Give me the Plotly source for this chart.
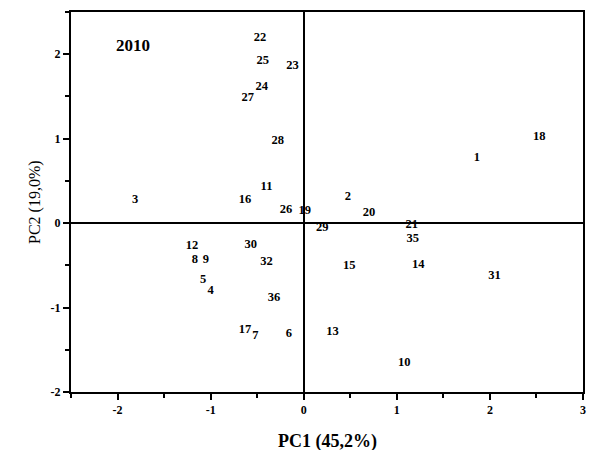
import plotly.graph_objects as go

labels = ["1","2","3","4","5","6","7","8","9","10","11","12","13","14","15","16","17","18",
          "19","20","21","22","23","24","25","26","27","28","29","30","31","32","35","36"]
pc1 = [1.86, 0.475, -1.81, -1.00, -1.08, -0.16, -0.52, -1.17, -1.05, 1.08, -0.40, -1.20, 0.31, 1.23,
       0.49, -0.63, -0.63, 2.53, 0.01, 0.70, 1.16, -0.47, -0.12, -0.45, -0.44, -0.19, -0.60, -0.28,
       0.20, -0.57, 2.05, -0.40, 1.17, -0.32]
pc2 = [0.77, 0.31, 0.28, -0.80, -0.67, -1.31, -1.34, -0.43, -0.44, -1.65, 0.43, -0.27, -1.29, -0.49,
       -0.51, 0.28, -1.26, 1.02, 0.14, 0.12, -0.02, 2.195, 1.86, 1.61, 1.92, 0.16, 1.48, 0.97,
       -0.06, -0.26, -0.62, -0.46, -0.19, -0.89]

year_label = "2010"
x_title = "PC1 (45,2%)"
y_title = "PC2 (19,0%)"
x_ticks = [-2, -1, 0, 1, 2, 3]
x_ticktext = ["-2", "-1", "0", "1", "2", "3"]
y_ticks = [-2, -1, 0, 1, 2]
y_ticktext = ["-2", "-1", "0", "1", "2"]

serif = "Liberation Serif, Times New Roman, serif"

fig = go.Figure()
fig.add_trace(go.Scatter(
    x=pc1, y=pc2, mode="text", text=labels,
    textposition="middle center",
    textfont=dict(family=serif, size=12.5, color="black", weight="bold"),
    hoverinfo="skip", showlegend=False,
))

fig.add_annotation(x=-1.83, y=2.1, text=year_label, showarrow=False,
                   font=dict(family=serif, size=17, color="black", weight="bold"))

# axis titles as paper annotations so the plot area stays fixed
fig.add_annotation(x=0.5, y=-0.129, xref="paper", yref="paper", text=x_title,
                   showarrow=False, xanchor="center", yanchor="middle",
                   font=dict(family=serif, size=18, color="black", weight="bold"))
fig.add_annotation(x=-0.0703, y=0.5, xref="paper", yref="paper", text=y_title,
                   showarrow=False, xanchor="center", yanchor="middle", textangle=-90,
                   font=dict(family=serif, size=16, color="black"))

axis_common = dict(
    showgrid=False, showline=True, linecolor="black", linewidth=2, mirror=True,
    ticks="outside", ticklen=6, tickwidth=2, tickcolor="black",
    zeroline=True, zerolinecolor="black", zerolinewidth=2, automargin=False,
    tickfont=dict(family=serif, size=12, color="black", weight="bold"),
)

fig.update_xaxes(range=[-2.5, 3], tickvals=x_ticks, ticktext=x_ticktext,
                 minor=dict(ticks="outside", dtick=0.5, ticklen=4, tickwidth=2, tickcolor="black"),
                 **axis_common)
fig.update_yaxes(range=[-2, 2.5], tickvals=y_ticks, ticktext=y_ticktext,
                 minor=dict(ticks="outside", dtick=0.5, ticklen=4, tickwidth=2, tickcolor="black"),
                 **axis_common)

fig.update_layout(
    width=597, height=450,
    margin=dict(l=71, r=14, t=12, b=58),
    plot_bgcolor="white", paper_bgcolor="white",
)

fig.write_html("out.html")
